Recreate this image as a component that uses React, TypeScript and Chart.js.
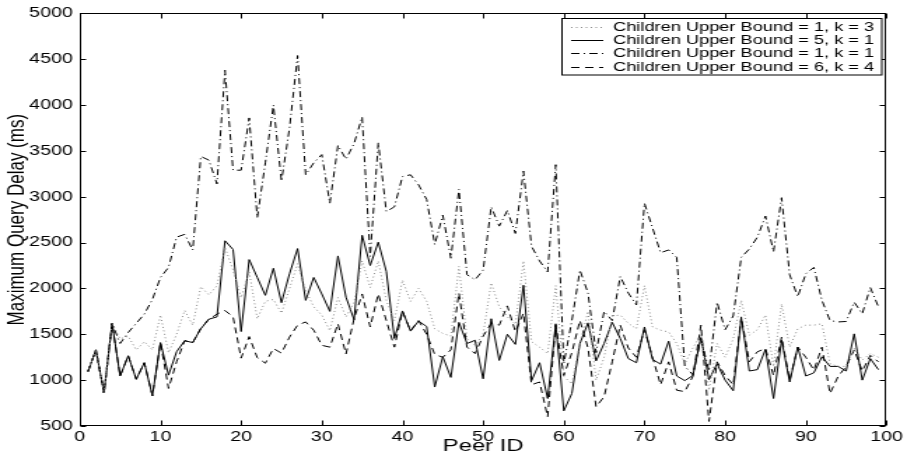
import React, { useEffect, useRef } from "react";
import { Chart, registerables } from "chart.js";

Chart.register(...registerables);

// ---------- data ----------
const peerIds = [
  1, 2, 3, 4, 5, 6, 7, 8, 9, 10, 11, 12, 13, 14, 15, 16, 17, 18, 19, 20,
  21, 22, 23, 24, 25, 26, 27, 28, 29, 30, 31, 32, 33, 34, 35, 36, 37, 38, 39, 40,
  41, 42, 43, 44, 45, 46, 47, 48, 49, 50, 51, 52, 53, 54, 55, 56, 57, 58, 59, 60,
  61, 62, 63, 64, 65, 66, 67, 68, 69, 70, 71, 72, 73, 74, 75, 76, 77, 78, 79, 80,
  81, 82, 83, 84, 85, 86, 87, 88, 89, 90, 91, 92, 93, 94, 95, 96, 97, 98, 99,
];

// Children Upper Bound = 1, k = 3 (dotted)
const ub1k3 = [
  1090, 1330, 860, 1620, 1450, 1480, 1330, 1420, 1330, 1710,
  1300, 1500, 1760, 1600, 2020, 1930, 2030, 2450, 2200, 1900,
  2180, 1670, 1860, 1880, 1730, 2000, 2270, 1980, 1800, 1710,
  1540, 1900, 1690, 1850, 2300, 2010, 2300, 1870, 1650, 2090,
  1860, 2000, 1860, 1560, 1510, 1480, 2240, 1450, 1380, 1500,
  2060, 1800, 1690, 1610, 2300, 1420, 1360, 1290, 2030, 1040,
  960, 1400, 1750, 1000, 1250, 1700, 1710, 1620, 1560, 2030,
  1580, 1545, 1525, 1400, 1180, 1350, 1500, 890, 1400, 1250,
  1450, 1870, 1490, 1550, 1710, 1150, 1830, 1360, 1560, 1600,
  1600, 1615, 1180, 1150, 1150, 1350, 1220, 1290, 1250,
];

// Children Upper Bound = 5, k = 1 (solid)
const ub5k1 = [
  1090, 1330, 860, 1620, 1045, 1265, 1010, 1190, 830, 1410,
  1055, 1310, 1430, 1410, 1560, 1665, 1690, 2520, 2425, 1530,
  2315, 2120, 1925, 2220, 1845, 2160, 2435, 1870, 2120, 1940,
  1750, 2355, 1905, 1660, 2580, 2250, 2505, 2185, 1455, 1755,
  1535, 1645, 1585, 925, 1255, 1030, 1630, 1400, 1435, 1015,
  1670, 1215, 1500, 1390, 2035, 995, 1190, 800, 1615, 665,
  855, 1400, 1625, 1210, 1400, 1630, 1455, 1235, 1190, 1580,
  1225, 1175, 1425, 1045, 995, 1050, 1465, 1005, 1180, 1000,
  885, 1680, 1100, 1115, 1335, 800, 1435, 980, 1360, 1045,
  1080, 1255, 1150, 1150, 1100, 1505, 1000, 1235, 1115,
];

// Children Upper Bound = 1, k = 1 (dash-dot)
const ub1k1 = [
  1090, 1330, 860, 1620, 1400, 1520, 1620, 1720, 1880, 2120,
  2230, 2560, 2590, 2420, 3440, 3400, 3140, 4380, 3290, 3290,
  3860, 2770, 3370, 4000, 3170, 3750, 4540, 3240, 3370, 3460,
  2930, 3560, 3410, 3580, 3870, 2350, 3590, 2840, 2890, 3220,
  3240, 3130, 2970, 2480, 2800, 2330, 3080, 2150, 2095, 2200,
  2890, 2680, 2850, 2600, 3280, 2460, 2300, 2180, 3350, 1180,
  1650, 2200, 1950, 1300, 1750, 1650, 2130, 1950, 1820, 2930,
  2660, 2390, 2420, 2340, 1150, 1060, 1450, 1100, 1850, 1550,
  1700, 2340, 2430, 2560, 2790, 2400, 2990, 2150, 1910, 2160,
  2230, 1870, 1650, 1635, 1640, 1850, 1725, 2010, 1800,
];

// Children Upper Bound = 6, k = 4 (dashed)
const ub6k4 = [
  1090, 1330, 860, 1620, 1045, 1265, 1010, 1190, 830, 1410,
  910, 1200, 1430, 1410, 1565, 1665, 1720, 1760, 1690, 1240,
  1475, 1245, 1185, 1345, 1295, 1470, 1600, 1635, 1545, 1380,
  1360, 1615, 1285, 1670, 1940, 1580, 1940, 1650, 1360, 1750,
  1540, 1650, 1500, 1280, 1250, 1330, 1950, 1360, 1290, 1480,
  1620, 1600, 1810, 1530, 1730, 950, 980, 600, 1600, 1050,
  1300, 1650, 1350, 710, 820, 1200, 1600, 1350, 1250, 1550,
  1250, 950, 1200, 890, 875, 1040, 1600, 550, 1200, 1050,
  950, 1690, 1200, 1310, 1345, 1050, 1470, 1000, 1360, 1250,
  1110, 1360, 855, 1040, 1150, 1330, 1100, 1270, 1200,
];

const seriesLabels = [
  "Children Upper Bound = 1, k = 3",
  "Children Upper Bound = 5, k = 1",
  "Children Upper Bound = 1, k = 1",
  "Children Upper Bound = 6, k = 4",
];

const xTitle = "Peer ID";
const yTitle = "Maximum Query Delay (ms)";

// ---------- layout (canvas is drawn narrow and stretched horizontally) ----------
const CANVAS_W = 648;
const CANVAS_H = 458;
const DISPLAY_W = 907;
const FONT = "'Liberation Sans', Arial, Helvetica, sans-serif";

const toPoints = (vals: number[]) => vals.map((v, i) => ({ x: peerIds[i], y: v }));

const framePlugin = {
  id: "frameAndLegend",
  afterDatasetsDraw(chart: any) {
    const { ctx, chartArea: a, scales } = chart;
    const xs = scales.x;
    const ys = scales.y;
    ctx.save();
    ctx.strokeStyle = "#000";
    ctx.lineWidth = 1;
    ctx.setLineDash([]);
    const L = Math.round(a.left) + 0.5;
    const R = Math.round(a.right) - 0.5;
    const T = Math.round(a.top) + 0.5;
    const B = Math.round(a.bottom) - 0.5;
    ctx.strokeRect(L, T, R - L, B - T);
    ctx.beginPath();
    xs.ticks.forEach((t: any) => {
      const px = Math.round(xs.getPixelForValue(t.value)) + 0.5;
      ctx.moveTo(px, B);
      ctx.lineTo(px, B - 5);
      ctx.moveTo(px, T);
      ctx.lineTo(px, T + 5);
    });
    ys.ticks.forEach((t: any) => {
      const py = Math.round(ys.getPixelForValue(t.value)) + 0.5;
      ctx.moveTo(L, py);
      ctx.lineTo(L + 4, py);
      ctx.moveTo(R, py);
      ctx.lineTo(R - 4, py);
    });
    ctx.stroke();

    // legend box
    const bx = 401.5;
    const by = 18.5;
    const bw = 228.5;
    const bh = 56.5;
    ctx.fillStyle = "#fff";
    ctx.fillRect(bx, by, bw, bh);
    ctx.strokeStyle = "#000";
    ctx.lineWidth = 1;
    ctx.strokeRect(bx, by, bw, bh);
    ctx.font = `13px ${FONT}`;
    ctx.textBaseline = "middle";
    ctx.textAlign = "left";
    chart.data.datasets.forEach((ds: any, i: number) => {
      const cy = by + 8.2 + i * 13.3;
      ctx.beginPath();
      ctx.strokeStyle = ds.borderColor;
      ctx.lineWidth = ds.borderWidth;
      ctx.setLineDash(ds.borderDash || []);
      ctx.moveTo(408, Math.round(cy) + 0.5);
      ctx.lineTo(431, Math.round(cy) + 0.5);
      ctx.stroke();
      ctx.setLineDash([]);
      ctx.fillStyle = "#000";
      ctx.fillText(ds.label, 438, cy + 0.5);
    });
    ctx.restore();
  },
};

export default function App() {
  const canvasRef = useRef<HTMLCanvasElement | null>(null);

  useEffect(() => {
    const canvas = canvasRef.current;
    if (!canvas) return;
    const chart = new Chart(canvas, {
      type: "line",
      data: {
        datasets: [
          {
            label: seriesLabels[0],
            data: toPoints(ub1k3),
            borderColor: "#8a8a8a",
            borderWidth: 1,
            borderDash: [1, 2.5],
            pointRadius: 0,
            tension: 0,
            fill: false,
          },
          {
            label: seriesLabels[1],
            data: toPoints(ub5k1),
            borderColor: "#000",
            borderWidth: 1,
            borderDash: [],
            pointRadius: 0,
            tension: 0,
            fill: false,
          },
          {
            label: seriesLabels[2],
            data: toPoints(ub1k1),
            borderColor: "#000",
            borderWidth: 1,
            borderDash: [6, 3, 1, 3],
            pointRadius: 0,
            tension: 0,
            fill: false,
          },
          {
            label: seriesLabels[3],
            data: toPoints(ub6k4),
            borderColor: "#000",
            borderWidth: 1,
            borderDash: [6, 4],
            pointRadius: 0,
            tension: 0,
            fill: false,
          },
        ],
      },
      options: {
        responsive: false,
        maintainAspectRatio: false,
        devicePixelRatio: 1,
        animation: false,
        events: [],
        layout: { padding: { left: 0, right: 12, top: 13, bottom: 0 } },
        plugins: {
          legend: { display: false },
          tooltip: { enabled: false },
          title: { display: false },
        },
        scales: {
          x: {
            type: "linear",
            min: 0,
            max: 100,
            grid: { display: false, drawTicks: false },
            border: { display: false },
            ticks: {
              stepSize: 10,
              color: "#000",
              padding: 3,
              maxRotation: 0,
              font: { family: FONT, size: 14 },
              callback: (v: any) => String(v),
            },
            title: {
              display: true,
              text: xTitle,
              color: "#000",
              font: { family: FONT, size: 17 },
              padding: { top: 0, bottom: 1 },
            },
            afterFit: (s: any) => {
              s.height = 32;
            },
          },
          y: {
            type: "linear",
            min: 500,
            max: 5000,
            grid: { display: false, drawTicks: false },
            border: { display: false },
            ticks: {
              stepSize: 500,
              color: "#000",
              padding: 5,
              font: { family: FONT, size: 14 },
              callback: (v: any) => String(v),
            },
            title: {
              display: true,
              text: yTitle,
              color: "#000",
              font: { family: FONT, size: 17 },
              padding: { top: 2, bottom: 0 },
            },
            afterFit: (s: any) => {
              s.width = 57;
            },
          },
        },
      },
      plugins: [framePlugin],
    });
    return () => chart.destroy();
  }, []);

  return (
    <div
      style={{
        position: "absolute",
        left: 0,
        top: 0,
        width: DISPLAY_W,
        height: CANVAS_H,
        background: "#fff",
      }}
    >
      <canvas
        ref={canvasRef}
        width={CANVAS_W}
        height={CANVAS_H}
        style={{ width: DISPLAY_W + "px", height: CANVAS_H + "px", display: "block" }}
      />
    </div>
  );
}
